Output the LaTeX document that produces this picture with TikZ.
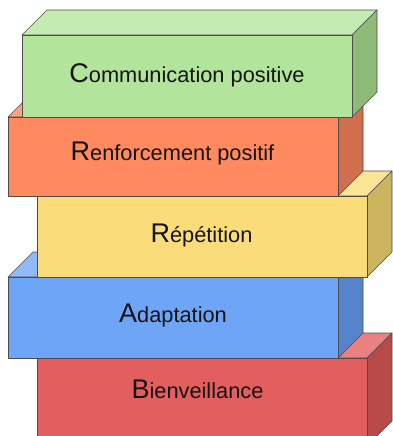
\documentclass[tikz,border=0pt]{standalone}
\usepackage{fontspec}
\setmainfont{Liberation Sans}
\usepackage{xcolor}
\definecolor{greenF}{HTML}{B2E49C}
\definecolor{greenT}{HTML}{C4ECB2}
\definecolor{greenS}{HTML}{8EBA78}
\definecolor{orangeF}{HTML}{FF8A60}
\definecolor{orangeT}{HTML}{FFA27F}
\definecolor{orangeS}{HTML}{D06E4D}
\definecolor{yellowF}{HTML}{FADC7A}
\definecolor{yellowT}{HTML}{FBE696}
\definecolor{yellowS}{HTML}{CDB45F}
\definecolor{blueF}{HTML}{6EA5F7}
\definecolor{blueT}{HTML}{8FBBFA}
\definecolor{blueS}{HTML}{5684CC}
\definecolor{redF}{HTML}{E35E5E}
\definecolor{redT}{HTML}{EB8080}
\definecolor{redS}{HTML}{B84A4A}
% #1,#2 front top-left, #3 front height, #4 front, #5 top, #6 side
\newcommand{\brick}[6]{%
  \filldraw[edge, fill=#5] (#1,#2) -- ++(25,-25) -- ++(330,0) -- ++(-25,25) -- cycle;
  \filldraw[edge, fill=#6] (#1,#2) ++(330,0) -- ++(25,-25) -- ++(0,#3) -- ++(-25,25) -- cycle;
  \filldraw[edge, fill=#4] (#1,#2) rectangle ++(330,#3);
}
\newcommand{\initial}[1]{{\fontsize{27}{30}\selectfont #1}}

\begin{document}
\begin{tikzpicture}[x=1pt, y=-1pt]
\tikzstyle{edge}=[draw=black!70, line width=0.6pt, line join=round]
\tikzstyle{lbl}=[anchor=base, inner sep=0pt, text=black!92, font=\fontsize{21.8}{25}\selectfont]

\useasboundingbox (0,0) rectangle (393,436);
\clip (0,0) rectangle (393,436);

% from the bottom up, so each brick hides the top of the one below
\brick{37}{358}{88}{redF}{redT}{redS}
\brick{8}{277}{81}{blueF}{blueT}{blueS}
\brick{37}{196}{81}{yellowF}{yellowT}{yellowS}
\brick{8}{117}{79}{orangeF}{orangeT}{orangeS}
\brick{22}{35}{82}{greenF}{greenT}{greenS}

\node[lbl] (comm) at (187,82) {\initial{C}ommunication positive};
\node[lbl] (renf) at (172.5,160) {\initial{R}enforcement positif};
\node[lbl] (rep) at (201.5,242) {\initial{R}épétition};
\node[lbl] (adapt) at (173,322) {\initial{A}daptation};
\node[lbl] (bien) at (197.5,398) {\initial{B}ienveillance};
\end{tikzpicture}
\end{document}
